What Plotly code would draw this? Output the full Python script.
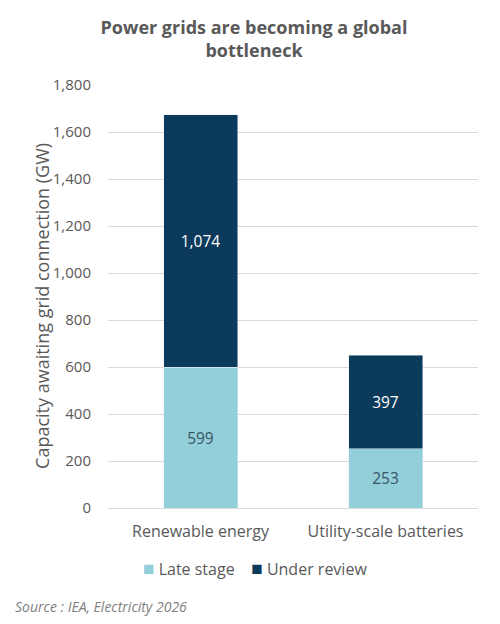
import plotly.graph_objects as go

categories = ["Renewable energy", "Utility-scale batteries"]
late_stage = [599, 253]
under_review = [1074, 397]
series_names = ["Late stage", "Under review"]
series_colors = ["#92cfd9", "#0b3a5b"]

fig = go.Figure()
fig.add_trace(go.Bar(
    x=categories, y=late_stage, name=series_names[0],
    marker_color=series_colors[0], width=0.4,
    text=[f"{v:,}" for v in late_stage], textposition="inside",
    insidetextanchor="middle",
    textfont=dict(color="#3b5566", size=15.5),
))
fig.add_trace(go.Bar(
    x=categories, y=under_review, name=series_names[1],
    marker_color=series_colors[1], width=0.4,
    text=[f"{v:,}" for v in under_review], textposition="inside",
    insidetextanchor="middle",
    textfont=dict(color="#ffffff", size=15.5),
))

# page is drawn with an 8px body margin, so the figure is 8px smaller
fig.update_layout(
    barmode="stack",
    width=492, height=616,
    margin=dict(l=100, r=22, t=77, b=116),
    paper_bgcolor="white", plot_bgcolor="white",
    font=dict(family="Open Sans", color="#595959", size=15),
    title=dict(
        text="<b>Power grids are becoming a global<br>bottleneck</b>",
        x=0.5, xanchor="center", y=0.958, yanchor="top",
        font=dict(size=18, color="#595959"),
    ),
    uniformtext=dict(mode="show", minsize=10),
    showlegend=False,
)
fig.update_xaxes(
    showgrid=False, showline=False, ticks="",
    tickfont=dict(size=16), ticklabelstandoff=12,
)
fig.update_yaxes(
    range=[0, 1800], dtick=200, tickformat=",",
    showgrid=True, gridcolor="#d9d9d9", gridwidth=1,
    zeroline=True, zerolinecolor="#d9d9d9", zerolinewidth=1,
    tickfont=dict(size=15), ticklabelstandoff=16,
)
fig.add_annotation(
    text="Capacity awaiting grid connection (GW)", textangle=-90,
    xref="paper", yref="paper", x=-0.178, y=0.478,
    xanchor="center", yanchor="middle", showarrow=False,
    font=dict(size=18, color="#595959"),
)
legend_text = "&nbsp;&nbsp;&nbsp;&nbsp;".join(
    f"<span style='color:{c};font-size:19px'>■</span> {n}"
    for n, c in zip(series_names, series_colors)
)
fig.add_annotation(
    text=legend_text,
    xref="paper", yref="paper", x=0.396, y=-0.142,
    xanchor="center", yanchor="middle", showarrow=False,
    font=dict(size=16, color="#595959"),
)
fig.add_annotation(
    text="<i>Source : IEA, Electricity 2026</i>",
    xref="paper", yref="paper", x=-0.257, y=-0.234,
    xanchor="left", yanchor="middle", showarrow=False,
    font=dict(size=14, color="#808080"),
)

fig.write_html("out.html")
